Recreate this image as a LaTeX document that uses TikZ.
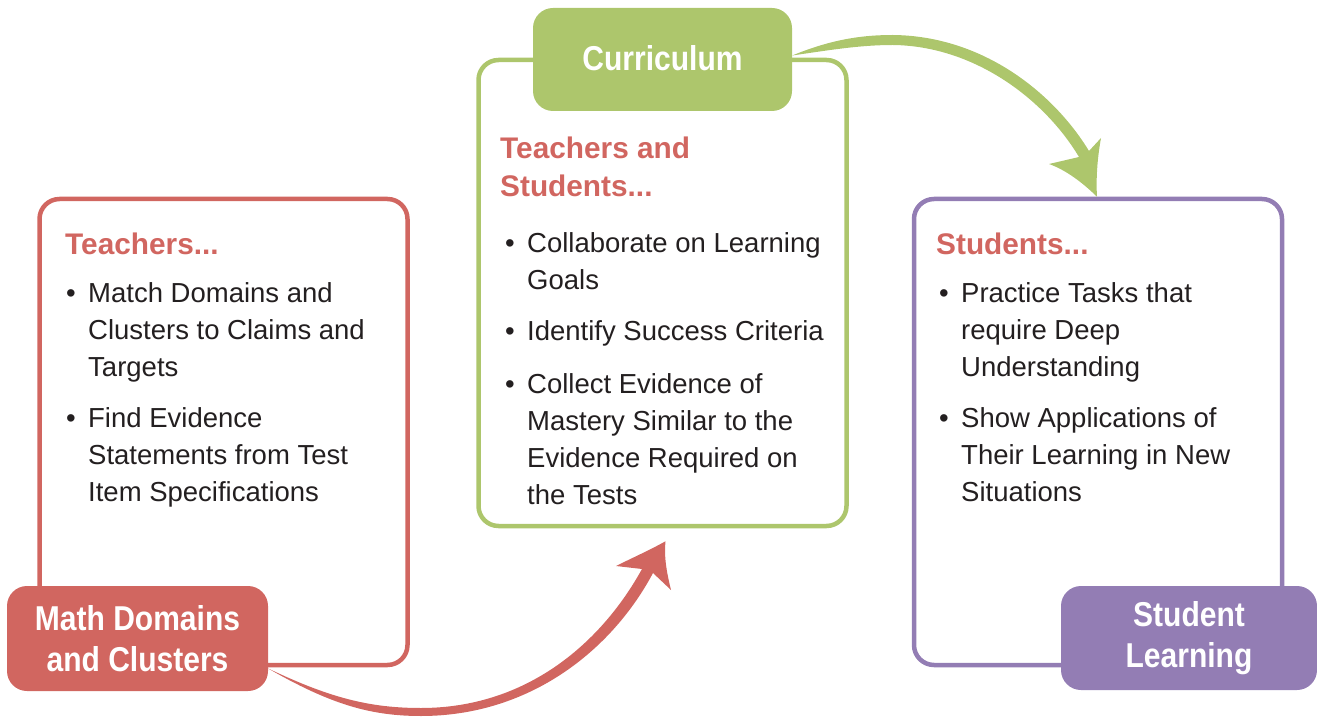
\documentclass[tikz,border=0pt]{standalone}
\usepackage{fontspec}
\setmainfont{Liberation Sans}
\newfontfamily\tagfont[FakeStretch=0.87]{Liberation Sans}
\usepackage{tikz}
\definecolor{redc}{RGB}{209,102,96}
\definecolor{greenc}{RGB}{173,198,108}
\definecolor{purplec}{RGB}{147,125,180}
\definecolor{textc}{RGB}{35,31,32}
\newcommand{\bul}[0]{\textbullet}

\begin{document}
\begin{tikzpicture}[x=1pt,y=-1pt,
  frame/.style={draw,line width=4.5pt,rounded corners=20pt,
    minimum width=368pt,minimum height=466pt},
  tag/.style={rounded corners=20pt,inner sep=0pt,text=white,align=center,
    font=\tagfont\bfseries\fontsize{34.5}{41}\selectfont},
  head/.style={anchor=base west,inner sep=0pt,text=redc,
    font=\bfseries\fontsize{29.8}{38}\selectfont},
  body/.style={anchor=base west,inner sep=0pt,text=textc,
    font=\fontsize{27.5}{37}\selectfont}]

  \path[use as bounding box] (0,0) rectangle (1317,719);

  % the three boxes
  \node[frame,draw=redc] (redbox) at (223.5,432) {};
  \node[frame,draw=greenc] (greenbox) at (662.5,293) {};
  \node[frame,draw=purplec] (purplebox) at (1098,432) {};

  % their tags
  \node[tag,fill=redc,minimum width=261pt,minimum height=105pt] (mathtag)
    at (137.5,638.5) {Math Domains\\and Clusters};
  \node[tag,fill=greenc,minimum width=259pt,minimum height=103pt] (currtag)
    at (662.5,59.5) {\raisebox{3pt}{Curriculum}};
  \node[tag,fill=purplec,minimum width=256pt,minimum height=104pt] (learntag)
    at (1189,638) {Student\\Learning};

  % texts
  \node[head] (redhead) at (65,255) {Teachers...};
  \node[body] (redlist) at (66,302)
    {\begin{tabular}[t]{@{}p{22pt}@{}l@{}}
      \bul & Match Domains and\\
           & Clusters to Claims and\\
           & Targets\\[14pt]
      \bul & Find Evidence\\
           & Statements from Test\\
           & Item Specifications
    \end{tabular}};

  \node[head] (greenhead) at (500,159)
    {\begin{tabular}[t]{@{}l@{}}Teachers and\\Students...\end{tabular}};
  \node[body] (greenlist) at (505,253)
    {\begin{tabular}[t]{@{}p{22pt}@{}l@{}}
      \bul & Collaborate on Learning\\
           & Goals\\[14pt]
      \bul & Identify Success Criteria\\[16pt]
      \bul & Collect Evidence of\\
           & Mastery Similar to the\\
           & Evidence Required on\\
           & the Tests
    \end{tabular}};

  \node[head] (purplehead) at (936,255) {Students...};
  \node[body] (purplelist) at (939,302)
    {\begin{tabular}[t]{@{}p{22pt}@{}l@{}}
      \bul & Practice Tasks that\\
           & require Deep\\
           & Understanding\\[14pt]
      \bul & Show Applications of\\
           & Their Learning in New\\
           & Situations
    \end{tabular}};

  % tapered arrows
  \coordinate (redtail) at ([yshift=-30pt]mathtag.east);
  \coordinate (redtip) at ([xshift=3pt,yshift=-13pt]greenbox.south);
  \fill[redc] (redtail) .. controls (330,704) and (370,716) .. (421,716)
    .. controls (530,716) and (612,650) .. (653,573) -- (671,590)
    .. controls (666,570) and (664,555) .. (redtip)
    .. controls (650,550) and (632,558) .. (616,566) -- (642,569)
    .. controls (600,645) and (525,708) .. (421,708)
    .. controls (370,708) and (330,698) .. (redtail) -- cycle;

  \coordinate (greentail) at ([yshift=4pt]currtag.east);
  \coordinate (greentip) at ([xshift=-1pt]purplebox.north);
  \fill[greenc] (greentail) .. controls (830,40) and (860,35) .. (893,35)
    .. controls (985,36) and (1055,95) .. (1089,151) -- (1101,138)
    .. controls (1097,160) and (1096,180) .. (greentip)
    .. controls (1083,183) and (1066,170) .. (1049,164) -- (1079,157)
    .. controls (1045,100) and (975,46) .. (893,45)
    .. controls (860,45) and (830,50) .. (greentail) -- cycle;

\end{tikzpicture}
\end{document}
